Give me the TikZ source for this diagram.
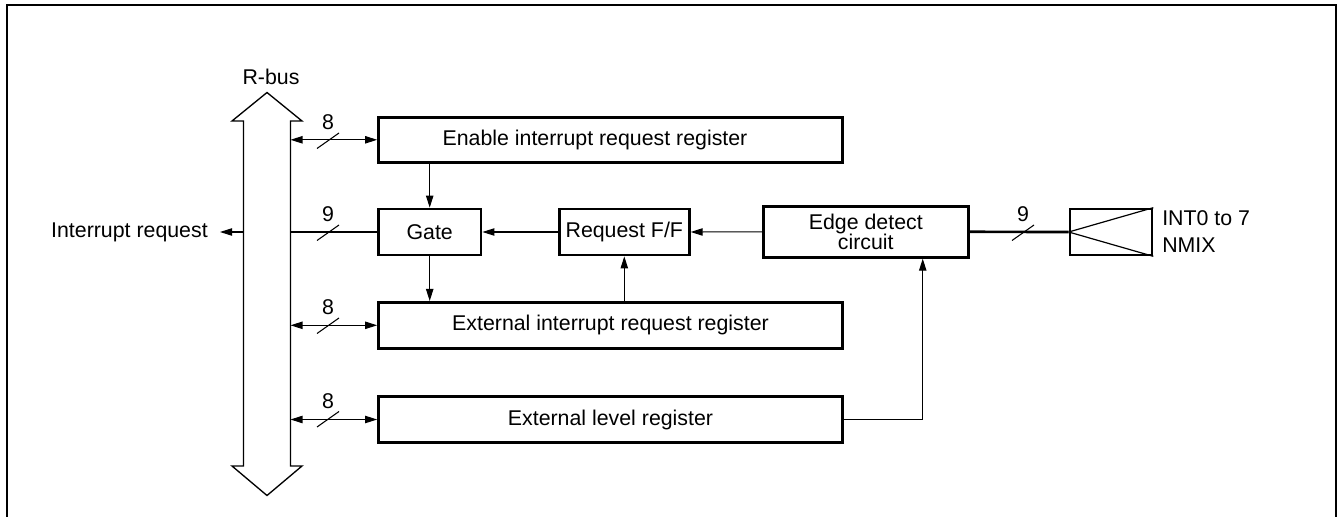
\documentclass[tikz,border=0pt]{standalone}
\usepackage{fontspec}
\setmainfont{Liberation Sans}
\usetikzlibrary{arrows.meta,calc}
\begin{document}
\begin{tikzpicture}[x=0.75pt,y=-0.75pt,
  font=\fontsize{16}{18}\selectfont,
  tip/.style={-{Triangle[length=9pt,width=5.5pt]}},
  dtip/.style={{Triangle[length=9pt,width=5.5pt]}-{Triangle[length=9pt,width=5.5pt]}},
  conn/.style={line width=0.8pt},
  blk/.style={draw, line width=2pt, inner sep=0pt, align=center},
  busslash/.pic={\draw[line width=0.8pt] (-11,8) -- (11,-7.5);},
  num/.style={inner sep=0pt}
]
\useasboundingbox (0,0) rectangle (1338,517);
% frame
\draw[line width=1.6pt] (7,517) -- (7,5) -- (1336,5) -- (1336,517);

% R-bus arrow
\draw[line width=1pt, line join=miter]
  (243.5,121) -- (232,121) -- (267,92.5) -- (302,121) -- (290.5,121)
  -- (290.5,466) -- (302,466) -- (267,495.5) -- (232,466) -- (243.5,466) -- cycle;
\node[num] (rbus) at (271,77) {R-bus};
\coordinate (busR) at (290.5,0);
\coordinate (busL) at (243.5,232);

% blocks
\node[blk, minimum width=348pt, minimum height=33.75pt] (enable) at (610.5,139.8) {};
\node[num] (enabletxt) at (595,140) {Enable interrupt request register};
\node[blk, minimum width=77pt, minimum height=34.5pt] (gate) at (429.7,232) {Gate};
\node[blk, minimum width=97.5pt, minimum height=34.5pt] (reqff) at (624.3,232) {Request F/F};
\node[blk, minimum width=348pt, minimum height=34.5pt] (extint) at (610.5,325.3) {External interrupt request register};
\node[blk, minimum width=153.75pt, minimum height=38.25pt, font=\fontsize{16}{15}\selectfont] (edge) at (865.8,231.8) {Edge detect\\circuit};
\node[blk, minimum width=348pt, minimum height=34.2pt] (extlevel) at (610.5,419.5) {External level register};
\node[draw, line width=2pt, minimum width=61.5pt, minimum height=34.5pt, inner sep=0pt] (intbox) at (1111,232) {};
\draw[line width=0.9pt] (intbox.west) -- (intbox.north east);
\draw[line width=0.9pt] (intbox.west) -- (intbox.south east);
\node[anchor=west, align=left, inner sep=0pt, font=\fontsize{16}{20}\selectfont] (intlbl) at (1162,231.5) {INT0 to 7\\NMIX};

% interrupt request output
\node[anchor=east, inner sep=9pt] (irq) at (220,232) {Interrupt request};
\draw[conn, tip] (busL) -- (irq.east);

% bus connections
\draw[conn, dtip] (enable.west -| busR) -- (enable.west);
\pic at (328,140.5) {busslash};
\node[num] (n1) at (328,122) {8};

\draw[conn] (gate.west) -- (gate.west -| busR);
\pic at (328,232.5) {busslash};
\node[num] (n2) at (328,214) {9};

\draw[conn, dtip] (extint.west -| busR) -- (extint.west);
\pic at (328,325.5) {busslash};
\node[num] (n3) at (328,307) {8};

\draw[conn, dtip] (extlevel.west -| busR) -- (extlevel.west);
\pic at (328,419) {busslash};
\node[num] (n4) at (328,401) {8};

% internal connectors
\draw[conn, tip] (enable.south -| gate.north) -- (gate.north);
\draw[conn, tip] (gate.south) -- (gate.south |- extint.north);
\draw[conn, tip] (reqff.south |- extint.north) -- (reqff.south);
\draw[conn, tip] (reqff.west) -- (gate.east);
\draw[conn, tip] (edge.west) -- (reqff.east);
\draw[conn, tip] (extlevel.east) -| ([xshift=42.7pt]edge.south);

% external inputs
\draw[line width=2pt] (edge.east) -- (intbox.west);
\pic at (1023,232.5) {busslash};
\node[num] (n5) at (1023,214) {9};
\end{tikzpicture}
\end{document}
